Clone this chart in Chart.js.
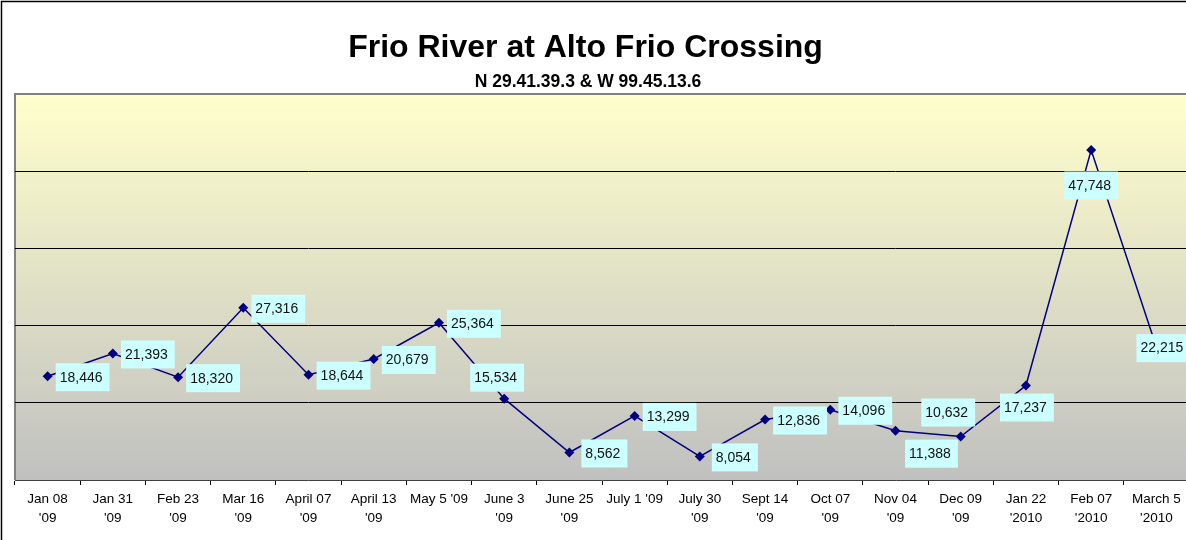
<!DOCTYPE html>
<html>
<head>
<meta charset="utf-8">
<script src="https://cdn.jsdelivr.net/npm/chart.js@4/dist/chart.umd.min.js"></script>
<style>
  html, body { margin: 0; padding: 0; background: #fff; }
  #wrap { width: 1186px; height: 540px; overflow: hidden; position: relative; }
  canvas { display: block; }
</style>
</head>
<body>
<div id="wrap"><canvas id="c" width="1200" height="540"></canvas></div>
<script>
// ---- Data ----
const categories = [
  ["Jan 08", "'09"], ["Jan 31", "'09"], ["Feb 23", "'09"], ["Mar 16", "'09"],
  ["April 07", "'09"], ["April 13", "'09"], ["May 5 '09", ""], ["June 3", "'09"],
  ["June 25", "'09"], ["July 1 '09", ""], ["July 30", "'09"], ["Sept 14", "'09"],
  ["Oct 07", "'09"], ["Nov 04", "'09"], ["Dec 09", "'09"], ["Jan 22", "'2010"],
  ["Feb 07", "'2010"], ["March 5", "'2010"]
];
const flowValues = [
  18446, 21393, 18320, 27316, 18644, 20679, 25364, 15534, 8562,
  13299, 8054, 12836, 14096, 11388, 10632, 17237, 47748, 22215
];
const titleText = "Frio River at Alto Frio Crossing";
const subtitleText = "N 29.41.39.3 & W 99.45.13.6";

// ---- Label placement (box centre offset from point, px) ----
const R = [35, 1];
const labelOffsets = [
  R, R, R, R, R, R, R, [-7, -21], R, R, R, R, R,
  [36, 23], [-12.5, -24], [1, 22], [0, 35.5], [7, 1]
];

const FONT = "'Liberation Sans', Arial, sans-serif";

const decorPlugin = {
  id: 'decor',
  beforeDraw(chart) {
    const ctx = chart.ctx;
    const a = chart.chartArea;
    ctx.save();
    // outer border
    ctx.strokeStyle = '#000';
    ctx.lineWidth = 1.5;
    ctx.strokeRect(1.5, 1.5, chart.width + 20, chart.height + 20);
    // plot gradient
    const g = ctx.createLinearGradient(0, a.top, 0, a.bottom);
    g.addColorStop(0, '#FFFFCC');
    g.addColorStop(1, '#C0C0C0');
    ctx.fillStyle = g;
    ctx.fillRect(a.left, a.top, a.right - a.left, a.bottom - a.top);
    // plot border (top, left)
    ctx.strokeStyle = '#808080';
    ctx.lineWidth = 2;
    ctx.beginPath();
    ctx.moveTo(a.left, a.bottom);
    ctx.lineTo(a.left, a.top);
    ctx.lineTo(a.right + 5, a.top);
    ctx.stroke();
    // titles
    ctx.fillStyle = '#000';
    ctx.textAlign = 'center';
    ctx.textBaseline = 'alphabetic';
    ctx.font = 'bold 32px ' + FONT;
    ctx.fillText(titleText, 585.5, 57);
    ctx.font = 'bold 17.5px ' + FONT;
    ctx.fillText(subtitleText, 588, 87);
    ctx.restore();
  },
  afterDatasetsDraw(chart) {
    const ctx = chart.ctx;
    const meta = chart.getDatasetMeta(0);
    ctx.save();
    ctx.font = '14px ' + FONT;
    ctx.textBaseline = 'middle';
    ctx.textAlign = 'left';
    meta.data.forEach((pt, i) => {
      const txt = flowValues[i].toLocaleString('en-US');
      const tw = ctx.measureText(txt).width;
      const w = tw + 11, h = 28;
      const off = labelOffsets[i];
      const cx = pt.x + off[0], cy = pt.y + off[1];
      const left = cx - w / 2, top = cy - h / 2;
      ctx.fillStyle = '#CCFFFF';
      ctx.fillRect(left, top, w, h);
      ctx.fillStyle = '#111';
      ctx.fillText(txt, left + 4, cy + 0.5);
    });
    ctx.restore();
  }
};

new Chart(document.getElementById('c'), {
  type: 'line',
  data: {
    labels: categories,
    datasets: [{
      data: flowValues,
      borderColor: '#000080',
      borderWidth: 1.5,
      pointStyle: 'rectRot',
      pointRadius: 5,
      pointBackgroundColor: '#000080',
      pointBorderColor: '#000080',
      pointBorderWidth: 0,
      tension: 0,
      fill: false
    }]
  },
  options: {
    responsive: false,
    animation: false,
    events: [],
    layout: { padding: { left: 15, top: 94, right: 11, bottom: 0 } },
    plugins: { legend: { display: false }, title: { display: false }, tooltip: { enabled: false } },
    scales: {
      x: {
        offset: true,
        grid: { display: true, offset: true, drawOnChartArea: false, drawTicks: true, tickLength: 5, color: '#000', lineWidth: 1 },
        border: { display: true, color: '#404040', width: 1 },
        ticks: {
          autoSkip: false, maxRotation: 0, minRotation: 0, color: '#000', padding: 4,
          font: { family: FONT, size: 13.5, lineHeight: 1.45 }
        },
        afterFit(s) { s.height = 60; }
      },
      y: {
        min: 5000, max: 55000,
        ticks: { display: false, stepSize: 10000 },
        grid: {
          drawTicks: false,
          color: (c) => (c.tick && (c.tick.value === 5000 || c.tick.value === 55000)) ? 'rgba(0,0,0,0)' : '#000',
          lineWidth: 1
        },
        border: { display: false },
        afterFit(s) { s.width = 0; }
      }
    }
  },
  plugins: [decorPlugin]
});
</script>
</body>
</html>
